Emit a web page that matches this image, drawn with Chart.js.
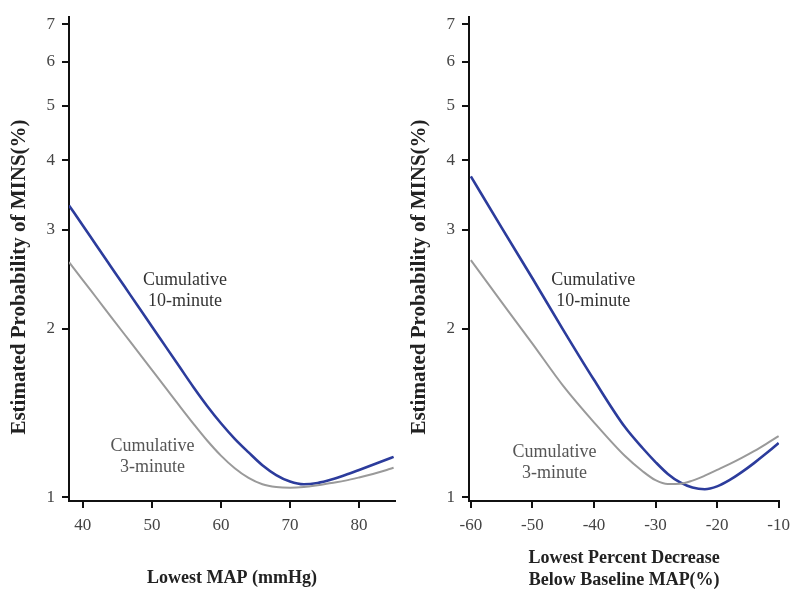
<!DOCTYPE html>
<html>
<head>
<meta charset="utf-8">
<script src="https://cdn.jsdelivr.net/npm/chart.js@4/dist/chart.umd.min.js"></script>
<style>
  body { margin: 0; background: #fff; }
  .panel { position: absolute; top: 0; height: 592px; }
</style>
</head>
<body>
<div class="panel" style="left:0;width:398px"><canvas id="mapChart"></canvas></div>
<div class="panel" style="left:398px;width:399px"><canvas id="pctChart"></canvas></div>
<script>
// lowest MAP (mmHg) panel
var mapValues = [38, 40, 42, 44, 46, 48, 50, 52, 54, 56, 58, 60, 62, 64, 66, 68, 70, 72, 74, 76, 78, 80, 82, 84, 85];
var map10min = [3.32, 3.056, 2.812, 2.588, 2.382, 2.192, 2.018, 1.857, 1.709, 1.573, 1.455, 1.355, 1.271, 1.202, 1.14, 1.095, 1.066, 1.054, 1.06, 1.075, 1.095, 1.118, 1.142, 1.167, 1.18];
var map3min = [2.63, 2.442, 2.268, 2.106, 1.956, 1.817, 1.687, 1.567, 1.455, 1.353, 1.262, 1.186, 1.126, 1.082, 1.054, 1.042, 1.039, 1.042, 1.05, 1.06, 1.07, 1.084, 1.10, 1.118, 1.128];

// lowest percent decrease below baseline panel
var pctValues = [-60, -55, -50, -45, -40, -35, -32, -30, -28, -26, -24, -22, -20, -18, -16, -14, -12, -10];
var pct10min = [3.74, 3.03, 2.46, 1.99, 1.62, 1.335, 1.22, 1.155, 1.10, 1.062, 1.04, 1.033, 1.045, 1.072, 1.108, 1.15, 1.197, 1.249];
var pct3min = [2.65, 2.23, 1.88, 1.58, 1.36, 1.185, 1.11, 1.072, 1.055, 1.056, 1.07, 1.092, 1.118, 1.145, 1.175, 1.208, 1.245, 1.285];

var mapTicks = [40, 50, 60, 70, 80];
var pctTicks = [-60, -50, -40, -30, -20, -10];
var probTicks = [1, 2, 3, 4, 5, 6, 7];

var serif = '"Liberation Serif", "Times New Roman", serif';

// writes the "Cumulative ..." notes next to the curves and the rotated y title
var curveLabels = {
  id: 'curveLabels',
  afterDatasetsDraw: function(chart, args, opts) {
    var ctx = chart.ctx;
    ctx.save();
    ctx.textAlign = 'center';
    ctx.textBaseline = 'middle';
    ctx.font = '18px ' + serif;
    opts.notes.forEach(function(n) {
      var x = chart.scales.x.getPixelForValue(n.x);
      var y = chart.scales.y.getPixelForValue(n.y);
      ctx.fillStyle = n.color;
      n.lines.forEach(function(line, i) {
        ctx.fillText(line, x, y + i * 21);
      });
    });
    ctx.translate(opts.yTitleX, opts.yTitleY);
    ctx.rotate(-Math.PI / 2);
    ctx.font = 'bold 21px ' + serif;
    ctx.fillStyle = '#222';
    ctx.fillText(opts.yTitle, 0, 0);
    ctx.restore();
  }
};

function pts(xs, ys) {
  return xs.map(function(x, i) { return {x: x, y: ys[i]}; });
}

function makeChart(id, xs, s10, s3, xTicks, xMin, xMax, xTitle, cfg) {
  var ctx = document.getElementById(id).getContext('2d');
  return new Chart(ctx, {
    type: 'line',
    data: {
      datasets: [
        {
          label: 'Cumulative 3-minute',
          data: pts(xs, s3),
          borderColor: '#9a9a9a',
          borderWidth: 2,
          pointRadius: 0,
          cubicInterpolationMode: 'monotone'
        },
        {
          label: 'Cumulative 10-minute',
          data: pts(xs, s10),
          borderColor: '#2c3c9c',
          borderWidth: 2.6,
          pointRadius: 0,
          cubicInterpolationMode: 'monotone'
        }
      ]
    },
    options: {
      responsive: true,
      maintainAspectRatio: false,
      animation: false,
      events: [],
      layout: { padding: { top: 8, right: cfg.rightPad, left: 0, bottom: 0 } },
      plugins: {
        legend: { display: false },
        tooltip: { enabled: false },
        curveLabels: {
          notes: cfg.notes,
          yTitle: 'Estimated Probability of MINS(%)',
          yTitleX: cfg.yTitleX,
          yTitleY: 277
        }
      },
      scales: {
        x: {
          type: 'linear',
          min: xMin,
          max: xMax,
          afterBuildTicks: function(scale) {
            scale.ticks = xTicks.map(function(v) { return {value: v}; });
          },
          afterFit: function(scale) { scale.height = 91; },
          border: { display: true, color: '#111', width: 2 },
          grid: { display: true, drawOnChartArea: false, drawTicks: true, tickLength: 7, tickColor: '#111', lineWidth: 2 },
          ticks: { color: '#444', padding: 7, maxRotation: 0, font: { family: serif, size: 17 } },
          title: {
            display: true,
            text: xTitle,
            color: '#222',
            padding: { top: 0, bottom: cfg.xTitlePad },
            font: { family: serif, size: 18, weight: 'bold', lineHeight: 1.2 }
          }
        },
        y: {
          type: 'logarithmic',
          min: 0.984,
          max: 7.2,
          afterBuildTicks: function(scale) {
            scale.ticks = probTicks.map(function(v) { return {value: v}; });
          },
          afterFit: function(scale) { scale.width = cfg.yWidth; },
          border: { display: true, color: '#111', width: 2 },
          grid: { display: true, drawOnChartArea: false, drawTicks: true, tickLength: 7, tickColor: '#111', lineWidth: 2 },
          ticks: {
            color: '#444',
            padding: 7,
            font: { family: serif, size: 17 },
            callback: function(v) { return String(v); }
          }
        }
      }
    },
    plugins: [curveLabels]
  });
}

makeChart('mapChart', mapValues, map10min, map3min, mapTicks, 38, 85.2, 'Lowest MAP (mmHg)', {
  rightPad: 3,
  yWidth: 69,
  yTitleX: 20,
  xTitlePad: 3,
  notes: [
    { x: 54.8, y: 2.44, lines: ['Cumulative', '10-minute'], color: '#333' },
    { x: 50.1, y: 1.23, lines: ['Cumulative', '3-minute'], color: '#555' }
  ]
});

makeChart('pctChart', pctValues, pct10min, pct3min, pctTicks, -60.3, -9.9, ['Lowest Percent Decrease', 'Below Baseline MAP(%)'], {
  rightPad: 14,
  yWidth: 71,
  yTitleX: 22,
  xTitlePad: 1,
  notes: [
    { x: -40.1, y: 2.44, lines: ['Cumulative', '10-minute'], color: '#333' },
    { x: -46.4, y: 1.20, lines: ['Cumulative', '3-minute'], color: '#555' }
  ]
});
</script>
</body>
</html>
